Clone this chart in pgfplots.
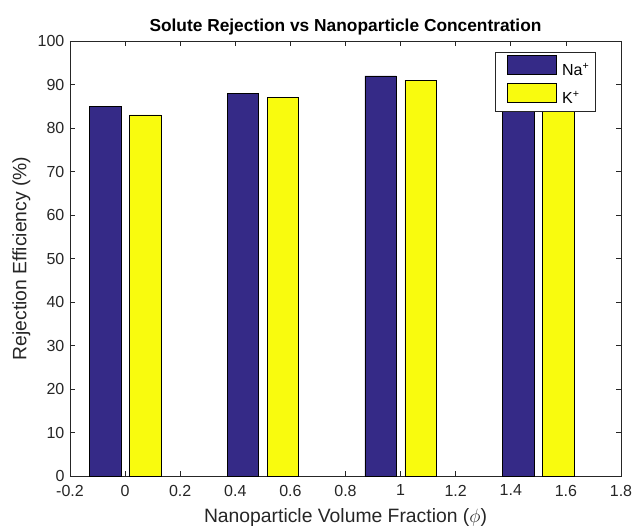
\documentclass[border=0pt]{standalone}
\usepackage{fontspec}
\setmainfont{Liberation Sans}
\usepackage{pgfplots}
\pgfplotsset{compat=1.18}
\usetikzlibrary{calc}
\definecolor{naBlue}{rgb}{0.2081,0.1663,0.5292}
\definecolor{kYellow}{rgb}{0.9763,0.9831,0.0538}
\definecolor{axgray}{rgb}{0.15,0.15,0.15}
\begin{document}
\begin{tikzpicture}
\begin{axis}[
  scale only axis, width=413.25pt, height=326.25pt,
  xmin=-0.2, xmax=1.8, ymin=0, ymax=100,
  xtick={-0.2,0,0.2,0.4,0.6,0.8,1,1.2,1.4,1.6,1.8},
  ytick={0,10,20,30,40,50,60,70,80,90,100},
  ybar, bar width=0.114,
  axis line style={axgray, line width=0.6pt},
  tick style={axgray, line width=0.5pt},
  major tick length=4pt,
  tick align=inside,
  ticklabel style={font=\fontsize{12}{14}\selectfont, text=axgray, inner sep=1pt},
  xticklabel style={yshift=-5.5pt},
  yticklabel style={xshift=-3pt},
  /pgf/number format/assume math mode=true,
  /pgf/number format/fixed,
  title={\fontsize{13}{15}\selectfont\bfseries Solute Rejection vs Nanoparticle Concentration},
  title style={yshift=-5pt},
  xlabel={Nanoparticle Volume Fraction ($\phi$)},
  ylabel={Rejection Efficiency (\%)},
  label style={font=\fontsize{14.5}{17}\selectfont, text=axgray},
  xlabel style={yshift=-5pt},
  ylabel style={yshift=1pt},
  legend style={at={(0.953,0.974)}, anchor=north east, draw=axgray,
    font=\fontsize{12}{14}\selectfont, row sep=2pt, inner xsep=0pt, inner ysep=2pt,
    nodes={inner xsep=4pt}},
  legend cell align=left,
  legend image code/.code={\path (-8.8pt,0pt); \draw[#1, bar shift=0pt] (0pt,-2.8pt) rectangle (37pt,11.45pt);},
]
\addplot[fill=naBlue, draw=black, bar shift=-0.0725] coordinates {(0,85) (0.5,88) (1,92) (1.5,95)};
\addplot[fill=kYellow, draw=black, bar shift=0.0725] coordinates {(0,83) (0.5,87) (1,91) (1.5,94)};
\legend{Na\textsuperscript{+}, K\textsuperscript{+}}
\end{axis}
\pgfresetboundingbox
\path[use as bounding box] ($(current axis.south west)+(-52.5pt,-41.25pt)$) rectangle ($(current axis.north east)+(9pt,30.75pt)$);
\end{tikzpicture}
\end{document}
